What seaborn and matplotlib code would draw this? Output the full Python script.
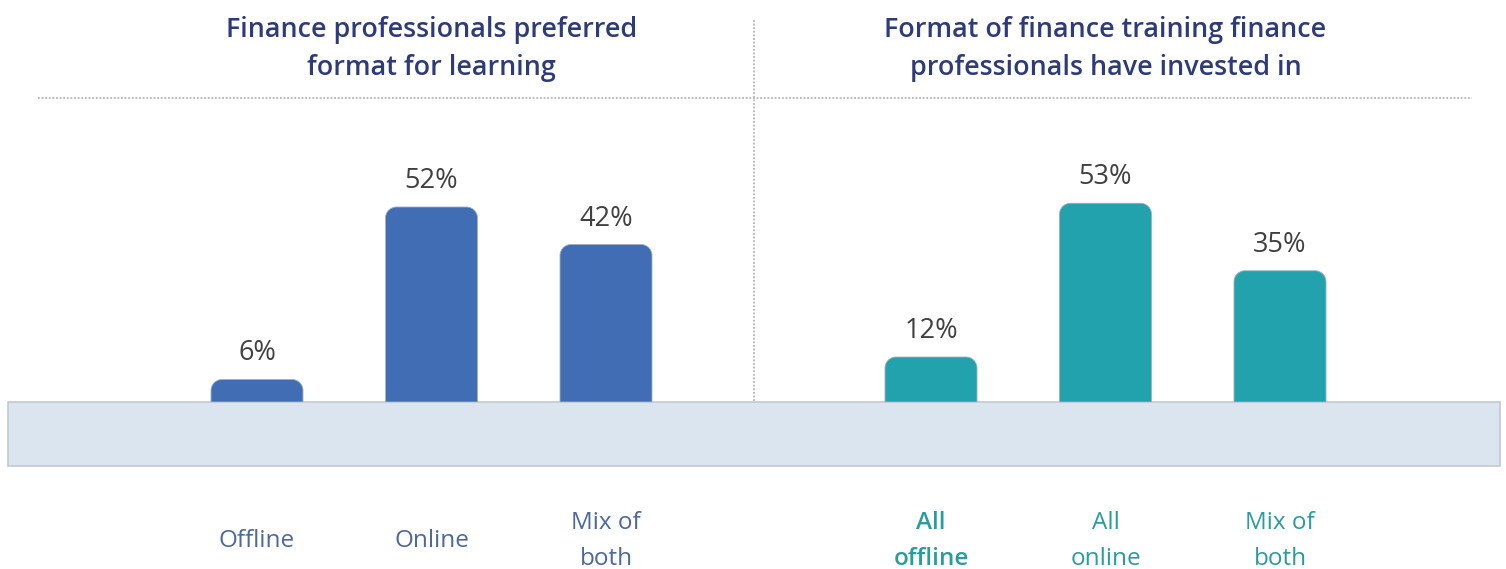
import matplotlib
matplotlib.use("Agg")
import matplotlib.pyplot as plt
from matplotlib.path import Path
from matplotlib.patches import PathPatch, Rectangle
from matplotlib.lines import Line2D
import seaborn as sns

# Survey results
pref_labels = ["Offline", "Online", "Mix of\nboth"]
pref_values = [6, 52, 42]
invest_labels = ["All\noffline", "All\nonline", "Mix of\nboth"]
invest_values = [12, 53, 35]
panel_titles = [
    "Finance professionals preferred\nformat for learning",
    "Format of finance training finance\nprofessionals have invested in",
]

W, H = 1506, 569
DPI = 100
PX_PER_PCT = 3.75
SLOT = 174.5  # pixels between bar centres
BASE = 402    # baseline, pixels from top

sns.set_theme(style="white")
plt.rcParams["font.family"] = ["Open Sans", "DejaVu Sans"]

fig = plt.figure(figsize=(W / DPI, H / DPI), dpi=DPI)
fig.patch.set_facecolor("white")

# Background layer in pixel coordinates: floor band and dotted guides
bg = fig.add_axes([0, 0, 1, 1])
bg.set_xlim(0, W)
bg.set_ylim(H, 0)
bg.axis("off")
bg.add_patch(Rectangle((8, BASE), 1492, 64, facecolor="#dae5f0",
                       edgecolor="#c2c9d1", linewidth=1.2, zorder=1))
bg.add_line(Line2D([38, 1472], [98, 98], color="#b5b5b5", lw=1.3,
                   linestyle=(0, (1, 1)), zorder=2))
bg.add_line(Line2D([754, 754], [20, BASE], color="#b5b5b5", lw=1.3,
                   linestyle=(0, (1, 1)), zorder=2))


def rounded_top(x0, w, h, rx, ry):
    """Bar outline with rounded top corners only."""
    k = 0.5523
    verts = [
        (x0, 0), (x0, h - ry),
        (x0, h - ry + k * ry), (x0 + rx - k * rx, h), (x0 + rx, h),
        (x0 + w - rx, h),
        (x0 + w - rx + k * rx, h), (x0 + w, h - ry + k * ry), (x0 + w, h - ry),
        (x0 + w, 0), (x0, 0),
    ]
    codes = [Path.MOVETO, Path.LINETO,
             Path.CURVE4, Path.CURVE4, Path.CURVE4,
             Path.LINETO,
             Path.CURVE4, Path.CURVE4, Path.CURVE4,
             Path.LINETO, Path.CLOSEPOLY]
    return Path(verts, codes)


def panel(px_left, px_right, first_centre, labels, values, bar_color,
          label_color, title, bold_first=False):
    top_px = 110
    ax = fig.add_axes([px_left / W, (H - BASE) / H,
                       (px_right - px_left) / W, (BASE - top_px) / H])
    sns.barplot(x=labels, y=values, ax=ax, color=bar_color, saturation=1,
                width=92 / SLOT, edgecolor="none")
    ax.set_xlim((px_left - first_centre) / SLOT, (px_right - first_centre) / SLOT)
    ax.set_ylim(0, (BASE - top_px) / PX_PER_PCT)
    ax.axis("off")
    ax.patch.set_alpha(0)

    rx = 11 / SLOT
    ry = 11 / PX_PER_PCT
    for bar in list(ax.patches):
        x0, w, h = bar.get_x(), bar.get_width(), bar.get_height()
        bar.remove()
        ax.add_patch(PathPatch(rounded_top(x0, w, h, rx, ry),
                               facecolor=bar_color, edgecolor="#9fb0c4",
                               linewidth=0.6, zorder=3))

    for i, v in enumerate(values):
        ax.annotate(f"{v}%", xy=(i, v), xytext=(0, 26 * 0.72),
                    textcoords="offset points", ha="center", va="center",
                    fontsize=19.5, color="#404040")
        ax.annotate(labels[i], xy=(i, 0), xytext=(0, -139 * 0.72),
                    textcoords="offset points", ha="center", va="center",
                    fontsize=17.5, color=label_color, linespacing=1.72,
                    fontweight="semibold" if (bold_first and i == 0) else "normal")

    ax.annotate(title, xy=(1, H - 49), xycoords=("data", "figure pixels"),
                ha="center", va="center", fontsize=19.4, fontweight="semibold",
                color="#2e3b7b", linespacing=1.5, annotation_clip=False)
    return ax


panel(8, 754, 257, pref_labels, pref_values, "#416db4", "#4c689c",
      panel_titles[0])
panel(754, 1500, 931, invest_labels, invest_values, "#21a2ad", "#2a9c9e",
      panel_titles[1], bold_first=True)

fig.savefig("out.png", dpi=DPI, facecolor="white")
